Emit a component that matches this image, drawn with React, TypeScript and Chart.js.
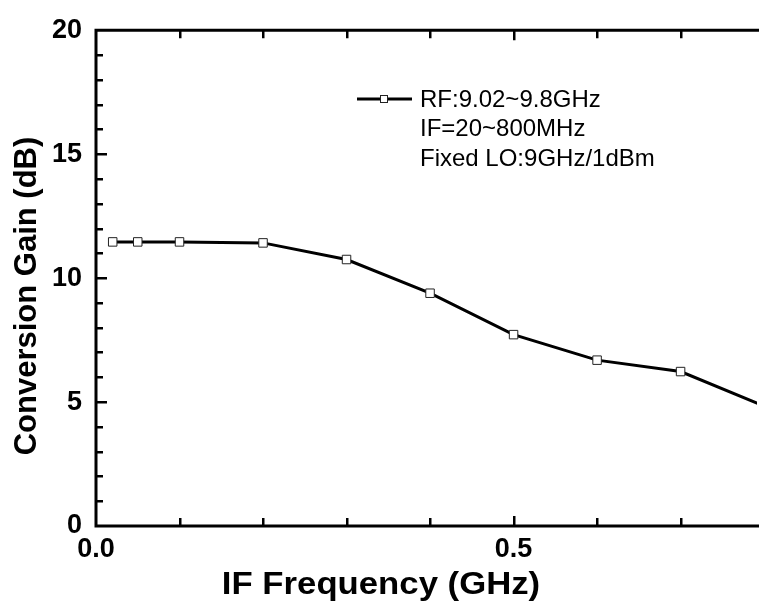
import React, { useEffect, useRef } from 'react';
import { Chart, registerables } from 'chart.js';

Chart.register(...registerables);

// ---- data ----
const freqGHz = [0.02, 0.05, 0.1, 0.2, 0.3, 0.4, 0.5, 0.6, 0.7, 0.8];
const gainDb = [11.46, 11.46, 11.46, 11.42, 10.75, 9.39, 7.72, 6.69, 6.23, 4.84];
const xTickValues = [0, 0.5];
const yTickValues = [0, 5, 10, 15, 20];
const xMinorStep = 0.1;
const yMinorStep = 1;
const legendLines = ['RF:9.02~9.8GHz', 'IF=20~800MHz', 'Fixed LO:9GHz/1dBm'];
const xTitle = 'IF Frequency (GHz)';
const yTitle = 'Conversion Gain (dB)';

const FONT = '"Liberation Sans", Arial, Helvetica, sans-serif';

const framePlugin = {
  id: 'frame',
  afterDraw(chart: any) {
    const { ctx, chartArea: a, scales } = chart;
    const xs = scales.x;
    const ys = scales.y;
    ctx.save();
    ctx.strokeStyle = '#000';
    ctx.lineCap = 'butt';
    // axis lines
    ctx.lineWidth = 3;
    ctx.beginPath();
    ctx.moveTo(a.left, a.top - 1.5);
    ctx.lineTo(a.left, a.bottom + 1.5);
    ctx.moveTo(a.left - 1.5, a.bottom);
    ctx.lineTo(a.right + 2, a.bottom);
    ctx.moveTo(a.left - 1.5, a.top);
    ctx.lineTo(a.right + 2, a.top);
    ctx.stroke();
    // x ticks (bottom and top, inward)
    ctx.lineWidth = 2.5;
    ctx.beginPath();
    for (let v = xMinorStep; v <= xs.max + 1e-9; v += xMinorStep) {
      const px = Math.round(xs.getPixelForValue(v)) + 0.25;
      const major = Math.abs(v / 0.5 - Math.round(v / 0.5)) < 1e-6;
      const len = major ? 10 : 8;
      ctx.moveTo(px, a.bottom);
      ctx.lineTo(px, a.bottom - len);
      ctx.moveTo(px, a.top);
      ctx.lineTo(px, a.top + len);
    }
    // y ticks (left, inward)
    for (let v = ys.min + yMinorStep; v < ys.max; v += yMinorStep) {
      const py = Math.round(ys.getPixelForValue(v)) + 0.25;
      const major = Math.abs(v % 5) < 1e-6;
      const len = major ? 11 : 7;
      ctx.moveTo(a.left, py);
      ctx.lineTo(a.left + len, py);
    }
    ctx.stroke();

    // legend
    const ly = 99;
    ctx.lineWidth = 3;
    ctx.beginPath();
    ctx.moveTo(357, ly);
    ctx.lineTo(412, ly);
    ctx.stroke();
    ctx.fillStyle = '#fff';
    ctx.strokeStyle = '#222';
    ctx.lineWidth = 1;
    ctx.fillRect(380, ly - 4, 8, 8);
    ctx.strokeRect(380.5, ly - 3.5, 7, 7);
    ctx.fillStyle = '#000';
    ctx.font = `24px ${FONT}`;
    ctx.textAlign = 'left';
    ctx.textBaseline = 'middle';
    legendLines.forEach((t, i) => ctx.fillText(t, 420, ly + 1 + i * 29.5));

    // axis titles
    ctx.font = `bold 31px ${FONT}`;
    ctx.textAlign = 'center';
    ctx.textBaseline = 'middle';
    ctx.save();
    ctx.translate(381, 585);
    ctx.scale(1.12, 1);
    ctx.fillText(xTitle, 0, 0);
    ctx.restore();
    ctx.save();
    ctx.translate(27, 296);
    ctx.rotate(-Math.PI / 2);
    ctx.fillText(yTitle, 0, 0);
    ctx.restore();
    ctx.restore();
  },
};

export default function App() {
  const ref = useRef<HTMLCanvasElement | null>(null);
  useEffect(() => {
    if (!ref.current) return;
    const chart = new Chart(ref.current, {
      type: 'line',
      data: {
        datasets: [
          {
            label: legendLines[0],
            data: freqGHz.map((x, i) => ({ x, y: gainDb[i] })),
            borderColor: '#000',
            borderWidth: 3,
            pointStyle: 'rect',
            pointRadius: 6,
            pointBorderWidth: 1,
            pointBorderColor: '#222',
            pointBackgroundColor: '#fff',
            tension: 0,
          },
        ],
      },
      options: {
        animation: false,
        responsive: false,
        layout: { padding: { top: 25, right: 0, left: 0, bottom: 0 } },
        plugins: { legend: { display: false }, tooltip: { enabled: false } },
        scales: {
          x: {
            type: 'linear',
            min: 0,
            max: 0.7915,
            grid: { display: false, drawTicks: false },
            border: { display: false },
            afterFit: (s: any) => {
              s.height = 89;
            },
            afterBuildTicks: (s: any) => {
              s.ticks = xTickValues.map((v) => ({ value: v }));
            },
            ticks: {
              color: '#000',
              padding: 7,
              maxRotation: 0,
              font: { family: FONT, size: 27, weight: 'bold' },
              callback: (v: any) => Number(v).toFixed(1),
            },
          },
          y: {
            type: 'linear',
            min: 0,
            max: 20,
            grid: { display: false, drawTicks: false },
            border: { display: false },
            afterFit: (s: any) => {
              s.width = 96;
            },
            afterBuildTicks: (s: any) => {
              s.ticks = yTickValues.map((v) => ({ value: v }));
            },
            ticks: {
              color: '#000',
              padding: 14,
              font: { family: FONT, size: 27, weight: 'bold' },
            },
          },
        },
      },
      plugins: [framePlugin],
    });
    return () => chart.destroy();
  }, []);
  return (
    <div style={{ position: 'fixed', left: 0, top: 0, width: 764, height: 615, background: '#fff' }}>
      <canvas ref={ref} width={764} height={615} style={{ display: 'block' }} />
    </div>
  );
}
